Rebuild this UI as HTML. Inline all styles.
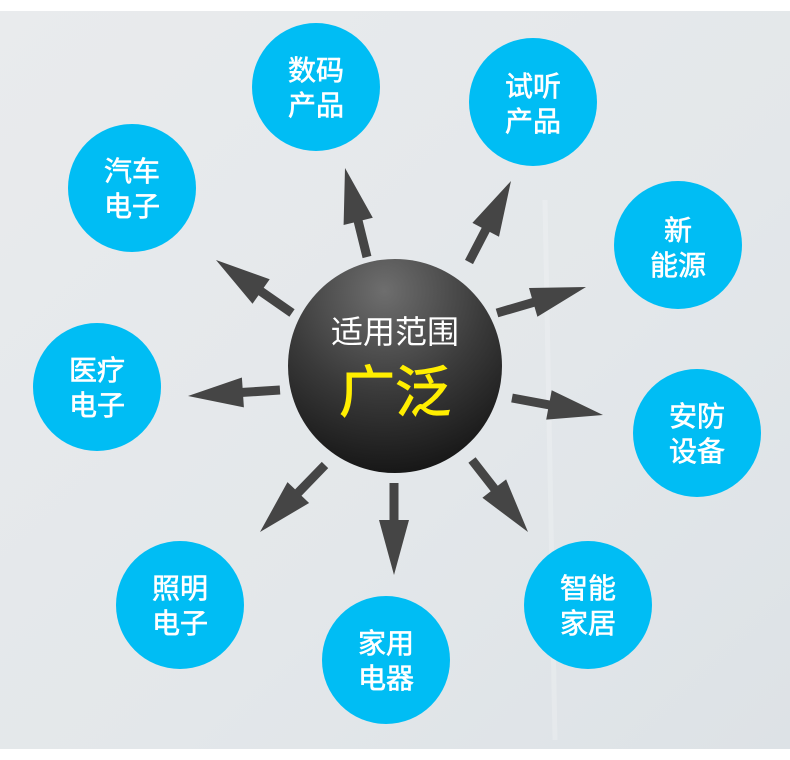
<!DOCTYPE html>
<html><head><meta charset="utf-8"><style>
html,body{margin:0;padding:0;width:790px;height:760px;overflow:hidden;background:#fff}
svg{display:block}
text{font-family:"Liberation Sans","Noto Sans CJK SC",sans-serif}
</style></head><body>
<svg id="s" width="790" height="760" viewBox="0 0 790 760" xmlns="http://www.w3.org/2000/svg">
<defs>
<linearGradient id="bg" x1="0" y1="0" x2="1" y2="1">
<stop offset="0" stop-color="#e9ebed"/><stop offset="0.6" stop-color="#e3e7ea"/><stop offset="1" stop-color="#dde2e6"/>
</linearGradient>
<radialGradient id="ball" cx="0.45" cy="0.15" r="0.95">
<stop offset="0" stop-color="#6e6e6e"/><stop offset="0.5" stop-color="#3a3a3a"/><stop offset="1" stop-color="#0e0e0e"/>
</radialGradient>
</defs>
<rect x="0" y="11" width="790" height="738" fill="url(#bg)"/>
<g stroke="#fff" stroke-opacity="0.2" stroke-width="5" fill="none">
<path d="M545 200 L555 740"/>
</g>
<g id="arrows" fill="#454545"></g>
<circle cx="395" cy="366" r="107" fill="url(#ball)"/>
<text x="395" y="343" font-size="32" fill="#fff" text-anchor="middle">适用范围</text>
<text x="395" y="412" font-size="56" fill="#ffee00" stroke="#ffee00" stroke-width="1" text-anchor="middle">广泛</text>
<g fill="#00bdf4">
<circle cx="316" cy="87" r="64"/><circle cx="533" cy="102" r="64"/><circle cx="678" cy="245" r="64"/>
<circle cx="697" cy="433" r="64"/><circle cx="588" cy="605" r="64"/><circle cx="386" cy="660" r="64"/>
<circle cx="180" cy="605" r="64"/><circle cx="97" cy="387" r="64"/><circle cx="132" cy="188" r="64"/>
</g>
<g fill="#fff" stroke="#fff" stroke-width="0.6" font-size="28" text-anchor="middle">
<text x="316" y="80">数码</text><text x="316" y="115">产品</text>
<text x="533" y="96">试听</text><text x="533" y="131">产品</text>
<text x="678" y="240">新</text><text x="678" y="275">能源</text>
<text x="697" y="426">安防</text><text x="697" y="461">设备</text>
<text x="588" y="598">智能</text><text x="588" y="633">家居</text>
<text x="386" y="653">家用</text><text x="386" y="688">电器</text>
<text x="180" y="598">照明</text><text x="180" y="633">电子</text>
<text x="97" y="380">医疗</text><text x="97" y="415">电子</text>
<text x="132" y="181">汽车</text><text x="132" y="216">电子</text>
</g>
</svg>
<script>
var A=[[367,257,345,168],[469,262,511,181],[497,313,586,287],[512,398,603,415],[472,460,528,532],[394,483,394,575],[325,465,260,532],[280,390,188,396],[292,313,216,260]];
var g=document.getElementById('arrows'),h='';
A.forEach(function(a){
var dx=a[2]-a[0],dy=a[3]-a[1],L=Math.sqrt(dx*dx+dy*dy),ux=dx/L,uy=dy/L,px=-uy,py=ux;
var hl=55,hw=15,sw=4.5;
var bx=a[2]-ux*hl,by=a[3]-uy*hl;
var p=[[a[0]+px*sw,a[1]+py*sw],[bx+px*sw,by+py*sw],[bx+px*hw,by+py*hw],[a[2],a[3]],[bx-px*hw,by-py*hw],[bx-px*sw,by-py*sw],[a[0]-px*sw,a[1]-py*sw]];
h+='<polygon points="'+p.map(function(q){return q[0].toFixed(1)+','+q[1].toFixed(1)}).join(' ')+'"/>';
});
g.innerHTML=h;
</script>
</body></html>
